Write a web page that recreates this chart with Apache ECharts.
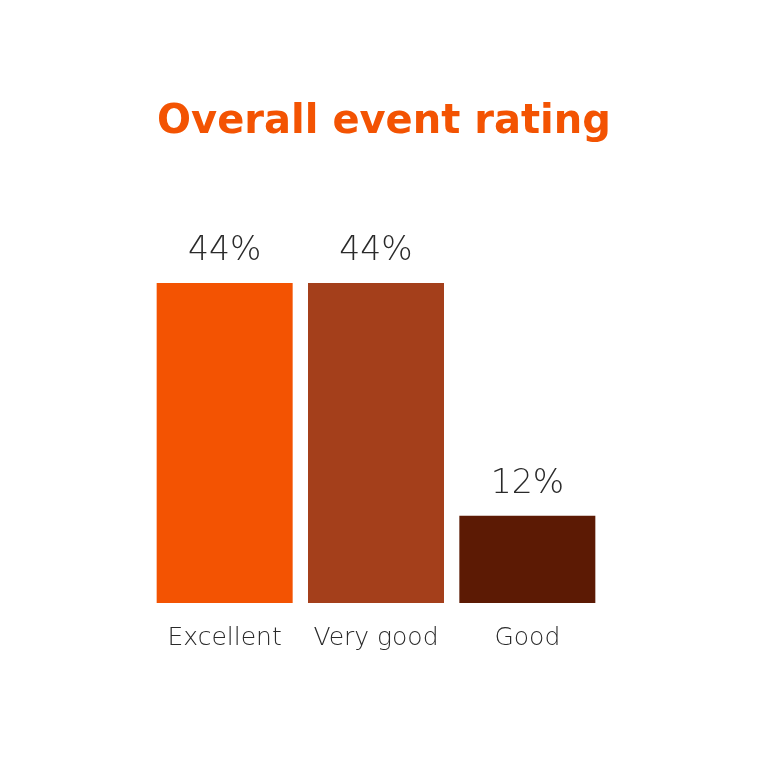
<!DOCTYPE html>
<html><head><meta charset="utf-8">
<script src="https://cdn.jsdelivr.net/npm/echarts@6/dist/echarts.min.js"></script>
<style>html,body{margin:0;padding:0;background:#fff}#c{width:768px;height:758px}</style>
</head><body><div id="c"></div>
<script>
const categories = ['Excellent', 'Very good', 'Good'];
const values = [44, 44, 12];
const barColors = ['#F35302', '#A43F1B', '#5C1A04'];

const chart = echarts.init(document.getElementById('c'));
chart.setOption({
  backgroundColor: '#ffffff',
  animation: false,
  title: {
    text: 'Overall event rating',
    left: 'center',
    top: 98,
    textStyle: { color: '#F35302', fontSize: 40, fontWeight: 'bold', fontFamily: 'DejaVu Sans' }
  },
  grid: { left: 149, width: 454, top: 239.4, bottom: 155, containLabel: false },
  xAxis: {
    type: 'category',
    data: categories,
    axisLine: { show: false },
    axisTick: { show: false },
    axisLabel: { interval: 0, hideOverlap: false, color: '#2a2a2a', fontSize: 25, margin: 23, fontFamily: 'DejaVu Sans', fontWeight: 200 }
  },
  yAxis: {
    type: 'value', min: 0, max: 50,
    show: false,
    splitLine: { show: false }
  },
  series: [{
    type: 'bar',
    barWidth: 136,
    data: values.map((v, i) => ({ value: v, itemStyle: { color: barColors[i] } })),
    label: {
      show: true, position: 'top', distance: 15,
      formatter: p => p.value + '%',
      color: '#2a2a2a', fontSize: 33, fontFamily: 'DejaVu Sans', fontWeight: 200
    }
  }]
});
</script></body></html>
